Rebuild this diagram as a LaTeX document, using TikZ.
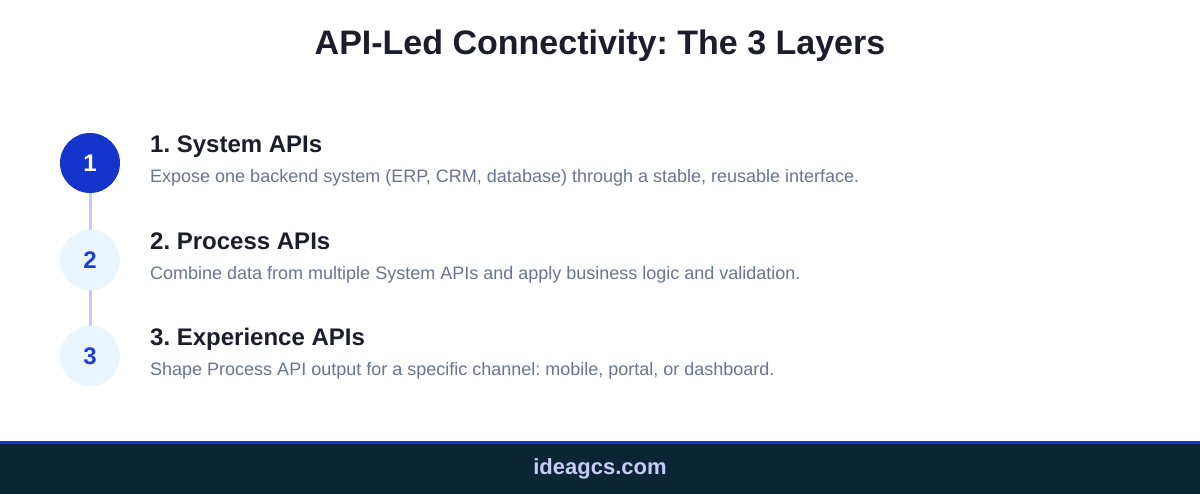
\documentclass[tikz,border=0pt]{standalone}
\usepackage{fontspec}
\setmainfont{Liberation Sans}
\usetikzlibrary{positioning}
\frenchspacing

\definecolor{stepblue}{HTML}{1434CB}
\definecolor{steplight}{HTML}{EAF5FE}
\definecolor{numblue}{HTML}{1D3FD4}
\definecolor{linkline}{HTML}{C6CBFC}
\definecolor{headink}{HTML}{1C1D2B}
\definecolor{descink}{HTML}{6A7491}
\definecolor{footbg}{HTML}{0A2634}
\definecolor{footink}{HTML}{C7CCF7}

\tikzset{
  stepcircle/.style={circle, minimum size=60pt, inner sep=0pt, font=\fontsize{24}{28}\selectfont\bfseries},
  stepactive/.style={stepcircle, fill=stepblue, text=white},
  stepidle/.style={stepcircle, fill=steplight, text=numblue},
  steplink/.style={draw=linkline, line width=3pt},
  heading/.style={anchor=base west, inner sep=0pt, text=headink, font=\fontsize{24}{28}\selectfont\bfseries},
  desc/.style={anchor=base west, inner sep=0pt, text=descink, font=\fontsize{18}{21}\selectfont},
}

\begin{document}
\begin{tikzpicture}[x=1pt, y=-1pt]
    \useasboundingbox (0,0) rectangle (1200,494);
    \fill[white] (0,0) rectangle (1200,494);

    % Title
    \node[text=headink, font=\fontsize{34}{40}\selectfont\bfseries] (title) at (600,46) {API-Led Connectivity: The 3 Layers};

    % Step circles
    \node[stepactive] (s1) at (90,163) {1};
    \node[stepidle] (s2) at (90,260) {2};
    \node[stepidle] (s3) at (90,356) {3};

    % Links between steps
    \draw[steplink] (s1.south) -- (s2.north);
    \draw[steplink] (s2.south) -- (s3.north);

    % Layer texts
    \node[heading] (h1) at (150,153) {1. System APIs};
    \node[desc] (d1) at (150,183) {Expose one backend system (ERP, CRM, database) through a stable, reusable interface.};

    \node[heading] (h2) at (150,250) {2. Process APIs};
    \node[desc] (d2) at (150,280) {Combine data from multiple System APIs and apply business logic and validation.};

    \node[heading] (h3) at (150,346) {3. Experience APIs};
    \node[desc] (d3) at (150,376) {Shape Process API output for a specific channel: mobile, portal, or dashboard.};

    % Footer
    \fill[footbg] (0,444) rectangle (1200,494);
    \fill[stepblue] (0,441) rectangle (1200,444);
    \node[text=footink, font=\fontsize{22}{26}\selectfont\bfseries] (site) at (600,469) {ideagcs.com};
\end{tikzpicture}
\end{document}
